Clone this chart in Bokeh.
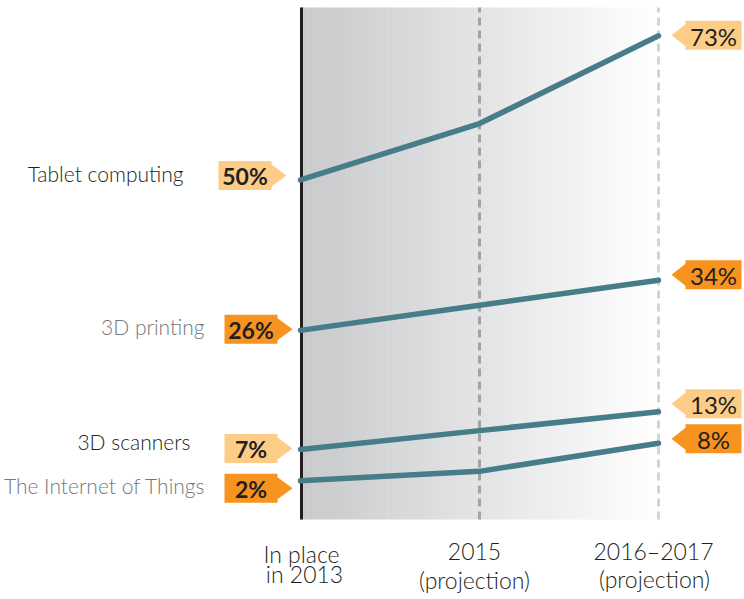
from bokeh.plotting import figure
from bokeh.models import Range1d, ColumnDataSource
from bokeh.core.properties import value
from bokeh.embed import file_html
from bokeh.resources import INLINE

# ---------------- data ----------------
series = ["Tablet computing", "3D printing", "3D scanners", "The Internet of Things"]
values_2013 = [50, 26, 7, 2]
values_2015 = [59, 30, 10, 3.5]
values_2017 = [73, 34, 13, 8]
period_line1 = ["In place", "2015", "2016\u20132017"]
period_line2 = ["in 2013", "(projection)", "(projection)"]

# ---------------- style ----------------
tag_colors = ["#fdcd88", "#f7931e", "#fdcd88", "#f7931e"]
name_colors = ["#231f20", "#76777a", "#231f20", "#76777a"]
line_color = "#477c89"
text_color = "#231f20"
FONT = value("Lato")
LIGHT = value("Lato Light")

W, H = 744, 599
X_PX0, X_STEP = 300.0, 179.0     # pixel of first period, pixels per period
Y_PX0, Y_STEP = 492.8, 6.267     # pixel of 0 %, pixels per percent

def dx(px):
    return px / X_STEP

def dy(px):  # px measured downward
    return -px / Y_STEP

def yv(px):
    return (Y_PX0 - px) / Y_STEP

p = figure(width=W, height=H, output_backend="svg", toolbar_location=None,
           x_range=Range1d(-X_PX0 / X_STEP, (W - X_PX0) / X_STEP),
           y_range=Range1d(yv(H), yv(0)),
           min_border=0, min_border_left=0, min_border_right=0,
           min_border_top=0, min_border_bottom=0)
p.axis.visible = False
p.grid.visible = False
p.outline_line_color = None
p.background_fill_color = "white"
p.border_fill_color = "white"

n_periods = len(period_line1)
bg_top, bg_bot = yv(7), yv(519)

# gradient background (thin strips)
c0 = (0xc8, 0xc9, 0xcb)
c1 = (0xfe, 0xfe, 0xfe)
N = 120
x_end = (n_periods - 1) + dx(-3)
lefts, rights, cols = [], [], []
for i in range(N):
    a = x_end * i / N
    b = x_end * (i + 1) / N + 0.002
    t = i / (N - 1)
    c = tuple(int(round(c0[k] + (c1[k] - c0[k]) * t)) for k in range(3))
    lefts.append(a); rights.append(b); cols.append("#%02x%02x%02x" % c)
p.quad(left=lefts, right=rights, bottom=bg_bot, top=bg_top, fill_color=cols, line_color=None)

# vertical guide lines
p.segment(x0=[1], x1=[1], y0=[bg_bot], y1=[bg_top], line_color="#a3a3a3", line_width=3, line_dash="8 5")
p.segment(x0=[2], x1=[2], y0=[bg_bot], y1=[bg_top], line_color="#d3d3d3", line_width=3, line_dash="8 5")
p.segment(x0=[dx(1)], x1=[dx(1)], y0=[bg_bot], y1=[bg_top], line_color="#231f20", line_width=3)

# series lines
xs = [[0, 1, 2] for _ in series]
ys = [[a, b, c] for a, b, c in zip(values_2013, values_2015, values_2017)]
p.multi_line(xs=xs, ys=ys, line_color=line_color, line_width=5.5, line_cap="round", line_join="round")

# tags
left_nudge = [-4.5, -1, -1, 7.5]
left_shift = [-6, 0, 0, 0]
right_nudge = [-0.5, -5.5, -8, -4.5]
HH, AH = 14.5, 11

def tag_poly(x_base, y_base, L, R, T, ny):
    pts = [(L, -HH), (R, -HH), (R, -AH), (T, 0), (R, AH), (R, HH), (L, HH)]
    return ([x_base + dx(px) for px, _ in pts], [y_base + dy(py + ny) for _, py in pts])

pxs, pys, pcols = [], [], []
tx, ty, tt = [], [], []
rtx, rty, rtt = [], [], []
for i in range(len(series)):
    L, R, T = -76 + left_shift[i], -23 + left_shift[i], -8 + left_shift[i]
    a, b = tag_poly(0, values_2013[i], L, R, T, left_nudge[i])
    pxs.append(a); pys.append(b); pcols.append(tag_colors[i])
    tx.append(dx((L + R) / 2)); ty.append(values_2013[i] + dy(left_nudge[i] + 1)); tt.append(f"{values_2013[i]}%")
    L, R, T = 83, 27, 13
    a, b = tag_poly(2, values_2017[i], L, R, T, right_nudge[i])
    pxs.append(a); pys.append(b); pcols.append(tag_colors[i])
    rtx.append(2 + dx(55)); rty.append(values_2017[i] + dy(right_nudge[i] + 1)); rtt.append(f"{values_2017[i]}%")

p.patches(xs=pxs, ys=pys, fill_color=pcols, line_color=None)
p.text(x=tx, y=ty, text=tt, text_font=FONT, text_font_style="bold", text_font_size="23px",
       text_color=text_color, text_align="center", text_baseline="middle")
p.text(x=rtx, y=rty, text=rtt, text_font=FONT, text_font_size="24px",
       text_color=text_color, text_align="center", text_baseline="middle")

# series names
name_dx = [-117, -96, -110, -95]
name_dy = [-6, -4, -8, 5]
p.text(x=[dx(d) for d in name_dx], y=[v + dy(o) for v, o in zip(values_2013, name_dy)], text=series,
       text_font=LIGHT, text_font_size="21px", text_color=name_colors,
       text_align="right", text_baseline="middle")

# period labels
lx = [dx(1), 1 + dx(-5), 2 + dx(-5)]
p.text(x=lx, y=[yv(553), yv(551), yv(550)], text=period_line1, text_font=LIGHT, text_font_size="23px",
       text_color=text_color, text_align="center", text_baseline="middle")
p.text(x=[dx(4), 1 + dx(-5), 2 + dx(-4)], y=[yv(573), yv(579), yv(578)], text=period_line2, text_font=LIGHT,
       text_font_size="23px", text_color=text_color, text_align="center", text_baseline="middle")

open("out.html", "w").write(file_html(p, INLINE))
